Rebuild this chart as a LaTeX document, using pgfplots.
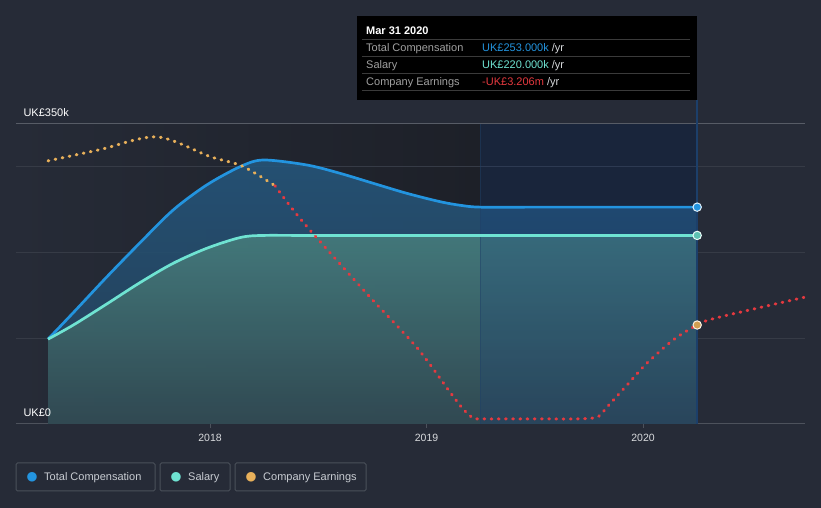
\documentclass[border=0pt]{standalone}
\usepackage{pgfplots}
\pgfplotsset{compat=1.18}
\usepackage{fontspec}
\setmainfont{Liberation Sans}
\newfontfamily\symfont{DejaVu Sans}
\definecolor{bg}{HTML}{262B37}
\definecolor{plotdark}{HTML}{1D2028}
\definecolor{gridc}{HTML}{363B46}
\definecolor{gridtop}{HTML}{575C66}
\definecolor{axisc}{HTML}{4D525C}
\definecolor{tcblue}{HTML}{2394DF}
\definecolor{salteal}{HTML}{6FE3D2}
\definecolor{earnorange}{HTML}{E8B05A}
\definecolor{earnred}{HTML}{E5393F}
\definecolor{navy}{HTML}{0F3A80}
\definecolor{ticktext}{HTML}{D8DADD}
\definecolor{legtext}{HTML}{C8CCD2}
\definecolor{legbox}{HTML}{4A505A}
\definecolor{ttlabel}{HTML}{A0A0A0}
\definecolor{ttline}{HTML}{3A3A3A}
\definecolor{markline}{HTML}{1C3F6A}

\pgfplotstableread{
x y
2017.252 99
2017.369 130
2017.523 171.5
2017.677 211.5
2017.830 249.7
2017.985 278.9
2018.139 300.2
2018.246 308
2018.447 302.2
2018.600 292.5
2018.754 280.8
2018.908 269.2
2019.062 259.4
2019.160 255
2019.250 253
2019.5 253
2020.25 253
}\totalcomp

\pgfplotstableread{
x y
2017.252 99
2017.369 115.5
2017.523 140
2017.677 165
2017.830 187.5
2017.985 205
2018.139 217.5
2018.246 220
2018.5 220
2020.25 220
}\salary

\pgfplotstableread{
x y
2017.252 307
2017.49 320
2017.755 335
2018.0 312
2018.148 301
2018.30 278
}\earnpos

\pgfplotstableread{
x y
2018.30 278
2018.374 253
2018.476 222
2018.739 148
2018.956 89
2019.109 37
2019.169 17.5
2019.215 7
2019.252 6
2019.5 6
2019.769 7
2019.834 20
2019.926 45.5
2020.018 71
2020.139 98
2020.25 115.5
2020.342 124
2020.748 148
}\earnneg

\begin{document}
\begin{tikzpicture}
\fill[bg] (0pt,0pt) rectangle (821pt,508pt);
\useasboundingbox (0pt,0pt) rectangle (821pt,508pt);
% darker plot background
\shade[left color=bg, right color=plotdark] (16pt,84pt) rectangle (480pt,384pt);
\fill[plotdark] (480pt,84pt) rectangle (697pt,384pt);

\begin{axis}[
  at={(16pt,84pt)}, anchor=south west, scale only axis,
  width=789pt, height=300pt,
  xmin=2017.104, xmax=2020.748, ymin=0, ymax=350,
  axis x line*=bottom, axis y line*=left,
  y axis line style={draw=none},
  x axis line style={draw=axisc, line width=1pt, -},
  xtick={2018,2019,2020}, xticklabels={2018,2019,2020},
  xtick align=outside, major tick length=4pt,
  xtick style={draw=axisc, line width=1pt},
  ytick={0,100,200,300}, yticklabels={},
  extra y ticks={350}, extra y tick labels={},
  extra y tick style={grid style={draw=gridtop, line width=1pt}},
  ymajorgrids, grid style={draw=gridc, line width=1pt},
  ytick style={draw=none},
  xticklabel style={font=\fontsize{10.5}{13}\selectfont, text=ticktext, yshift=-3pt},
]
% areas
\addplot[draw=none, smooth, top color=tcblue!40!bg, bottom color=tcblue!20!bg, fill opacity=0.9] table {\totalcomp} \closedcycle;
\addplot[draw=none, smooth, top color=salteal!45!bg, bottom color=salteal!17!bg, fill opacity=0.88] table {\salary} \closedcycle;
% highlighted period
\fill[navy, opacity=0.22] (axis cs:2019.25,0) rectangle (axis cs:2020.25,350);
\draw[markline, line width=0.6pt, opacity=0.6] (axis cs:2019.25,0) -- (axis cs:2019.25,350);
% lines
\addplot[tcblue, line width=2.7pt, smooth] table {\totalcomp};
\addplot[salteal, line width=2.7pt, smooth] table {\salary};
\addplot[earnorange, line width=3pt, line cap=round, dash pattern=on 0.8pt off 6.4pt, smooth] table {\earnpos};
\addplot[earnred, line width=3pt, line cap=round, dash pattern=on 0.8pt off 6.4pt, smooth] table {\earnneg};
\end{axis}

% tooltip marker line
\draw[markline, line width=1.6pt] (697pt,84pt) -- (697pt,408pt);

\begin{axis}[
  at={(16pt,84pt)}, anchor=south west, scale only axis,
  width=789pt, height=300pt,
  xmin=2017.104, xmax=2020.748, ymin=0, ymax=350,
  axis line style={draw=none}, tick style={draw=none},
  xtick=\empty, ytick={0,350}, yticklabels={UK£0,UK£350k},
  yticklabel style={anchor=south west, xshift=4pt, yshift=4pt, font=\fontsize{11}{13}\selectfont, text=white},
  clip=false,
]
\addplot[only marks, mark=*, mark size=4.2pt, mark options={fill=tcblue, draw=white!85!tcblue, line width=1pt}] coordinates {(2020.25,253)};
\addplot[only marks, mark=*, mark size=4.2pt, mark options={fill=salteal!85!black, draw=white!85!salteal, line width=1pt}] coordinates {(2020.25,220)};
\addplot[only marks, mark=*, mark size=4.2pt, mark options={fill=earnorange!90!black, draw=white!85!earnorange, line width=1pt}] coordinates {(2020.25,115.5)};
\end{axis}

% tooltip
\fill[black] (357pt,408pt) rectangle (697pt,492pt);
\node[anchor=base west, inner sep=0pt, text=white, font=\bfseries\fontsize{11}{13}\selectfont] at (366pt,473pt) {Mar 31 2020};
\foreach \yy in {468,451,434,417} {\draw[ttline, line width=1pt] (362pt,\yy pt) -- (690pt,\yy pt);}
\begin{scope}[every node/.style={anchor=base west, inner sep=0pt, font=\fontsize{11}{13}\selectfont}]
\node[text=ttlabel] at (366pt,456pt) {Total Compensation};
\node[text=ttlabel] at (366pt,439pt) {Salary};
\node[text=ttlabel] at (366pt,422pt) {Company Earnings};
\node at (482pt,456pt) {\textcolor{tcblue}{UK£253.000k} \textcolor{ticktext}{/yr}};
\node at (482pt,439pt) {\textcolor{salteal}{UK£220.000k} \textcolor{ticktext}{/yr}};
\node at (482pt,422pt) {\textcolor{earnred}{-UK£3.206m} \textcolor{ticktext}{/yr}};
\end{scope}

% legend
\draw[legbox, line width=1pt, rounded corners=1.5pt] (16pt,17pt) rectangle (155pt,45pt);
\draw[legbox, line width=1pt, rounded corners=1.5pt] (160pt,17pt) rectangle (230pt,45pt);
\draw[legbox, line width=1pt, rounded corners=1.5pt] (235pt,17pt) rectangle (366pt,45pt);
\begin{scope}[every node/.style={inner sep=0pt}]
\node[text=tcblue, font=\symfont\fontsize{12.5}{13}\selectfont] at (32pt,31pt) {●};
\node[text=salteal, font=\symfont\fontsize{12.5}{13}\selectfont] at (176pt,31pt) {●};
\node[text=earnorange, font=\symfont\fontsize{12.5}{13}\selectfont] at (251pt,31pt) {●};
\node[anchor=base west, text=legtext, font=\fontsize{11}{13}\selectfont] at (44pt,27pt) {Total Compensation};
\node[anchor=base west, text=legtext, font=\fontsize{11}{13}\selectfont] at (188pt,27pt) {Salary};
\node[anchor=base west, text=legtext, font=\fontsize{11}{13}\selectfont] at (263pt,27pt) {Company Earnings};
\end{scope}
\end{tikzpicture}
\end{document}
